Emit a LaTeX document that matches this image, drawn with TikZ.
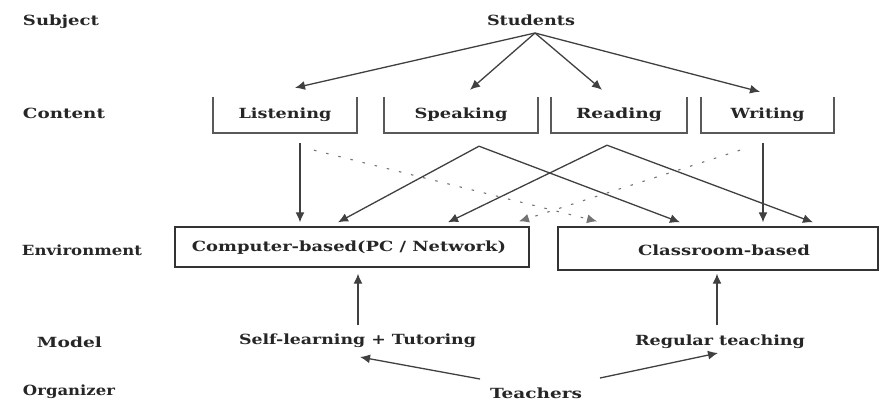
\documentclass[tikz,border=0pt]{standalone}
\usepackage{fontspec}
\setmainfont{DejaVu Serif}
\usetikzlibrary{arrows.meta}
\newcommand{\fitw}[2]{\resizebox{#1pt}{\height}{#2}}
\begin{document}
\begin{tikzpicture}[x=1pt,y=-1pt,
  lbl/.style={inner sep=0pt, font=\fontsize{14}{16}\selectfont\bfseries, text=black!85},
  boxn/.style={lbl, minimum height=36pt},
  ln/.style={draw=black!75, line width=1.3pt},
  arr/.style={ln, -{Latex[length=10pt,width=9pt]}},
  dotl/.style={draw=black!55, line width=1.1pt, dash pattern=on 2.5pt off 10pt, -{Latex[length=10pt,width=9pt]}},
  ubox/.style={draw=black!65, line width=2pt},
  ebox/.style={draw=black!80, line width=1.4pt, inner sep=0pt}]
\useasboundingbox (0,0) rectangle (882,402);
% left labels
\node[lbl] (sub) at (61,22) {\fitw{76}{Subject}};
\node[lbl] (con) at (64,113) {\fitw{82}{Content}};
\node[lbl] (env) at (82,250) {\fitw{120}{Environment}};
\node[lbl] (mod) at (69.5,342) {\fitw{65}{Model}};
\node[lbl] (org) at (69,392) {\fitw{92}{Organizer}};
% subject
\node[lbl] (stu) at (531,20) {\fitw{88}{Students}};
% content boxes
\node[boxn, minimum width=144pt] (lis) at (285,115) {\fitw{93}{Listening}};
\node[boxn, minimum width=154pt] (spk) at (461,115) {\fitw{93}{Speaking}};
\node[boxn, minimum width=136pt] (rea) at (619,115) {\fitw{86}{Reading}};
\node[boxn, minimum width=133pt] (wri) at (767.5,115) {\fitw{74}{Writing}};
\foreach \n in {lis,spk,rea,wri}{
  \draw[ubox] (\n.north west) -- (\n.south west) -- (\n.south east) -- (\n.north east);
}
% environment boxes
\node[ebox, draw, minimum width=354pt, minimum height=40pt] (cmp) at (352,247) {};
\node[lbl] (cmpt) at (349,248) {\fitw{314}{Computer-based(PC / Network)}};
\node[ebox, draw, minimum width=320pt, minimum height=43pt] (cls) at (718,248.5) {};
\node[lbl] (clst) at (724,250) {\fitw{172}{Classroom-based}};
% model
\node[lbl] (self) at (357.5,341) {\fitw{237}{Self-learning + Tutoring}};
\node[lbl] (reg) at (720,342) {\fitw{170}{Regular teaching}};
% organizer
\node[lbl] (tea) at (536,393) {\fitw{92}{Teachers}};
% students arrows
\draw[arr] ([shift={(4,13)}]stu.center) -- ([shift={(10,-9)}]lis.north);
\draw[arr] ([shift={(4,13)}]stu.center) -- ([shift={(9,-7)}]spk.north);
\draw[arr] ([shift={(4,13)}]stu.center) -- ([shift={(-17,-7)}]rea.north);
\draw[arr] ([shift={(4,13)}]stu.center) -- ([shift={(-7.5,-5)}]wri.north);
% content to environment
\draw[arr] ([shift={(15,10)}]lis.south) -- ([shift={(-52,-4)}]cmp.north);
\draw[arr] ([shift={(18,13)}]spk.south) -- ([shift={(-14,-4)}]cmp.north);
\draw[arr] ([shift={(18,13)}]spk.south) -- ([shift={(-38,-4)}]cls.north);
\draw[arr] ([shift={(-12,12)}]rea.south) -- ([shift={(96,-4)}]cmp.north);
\draw[arr] ([shift={(-12,12)}]rea.south) -- ([shift={(95,-4)}]cls.north);
\draw[arr] ([shift={(-4.5,10)}]wri.south) -- ([shift={(45,-4)}]cls.north);
\draw[dotl] ([shift={(29,17)}]lis.south) -- ([shift={(-121,-5)}]cls.north);
\draw[dotl] ([shift={(-27.5,17)}]wri.south) -- ([shift={(167,-5)}]cmp.north);
% model to environment
\draw[arr] ([shift={(0.5,-16)}]self.center) -- ([shift={(6,6)}]cmp.south);
\draw[arr] ([shift={(-3,-17)}]reg.center) -- ([shift={(-1,3)}]cls.south);
% teachers
\draw[arr] ([shift={(-56,-14)}]tea.center) -- ([shift={(2.5,16)}]self.center);
\draw[arr] ([shift={(64,-15)}]tea.center) -- ([shift={(-2,11)}]reg.center);
\end{tikzpicture}
\end{document}
